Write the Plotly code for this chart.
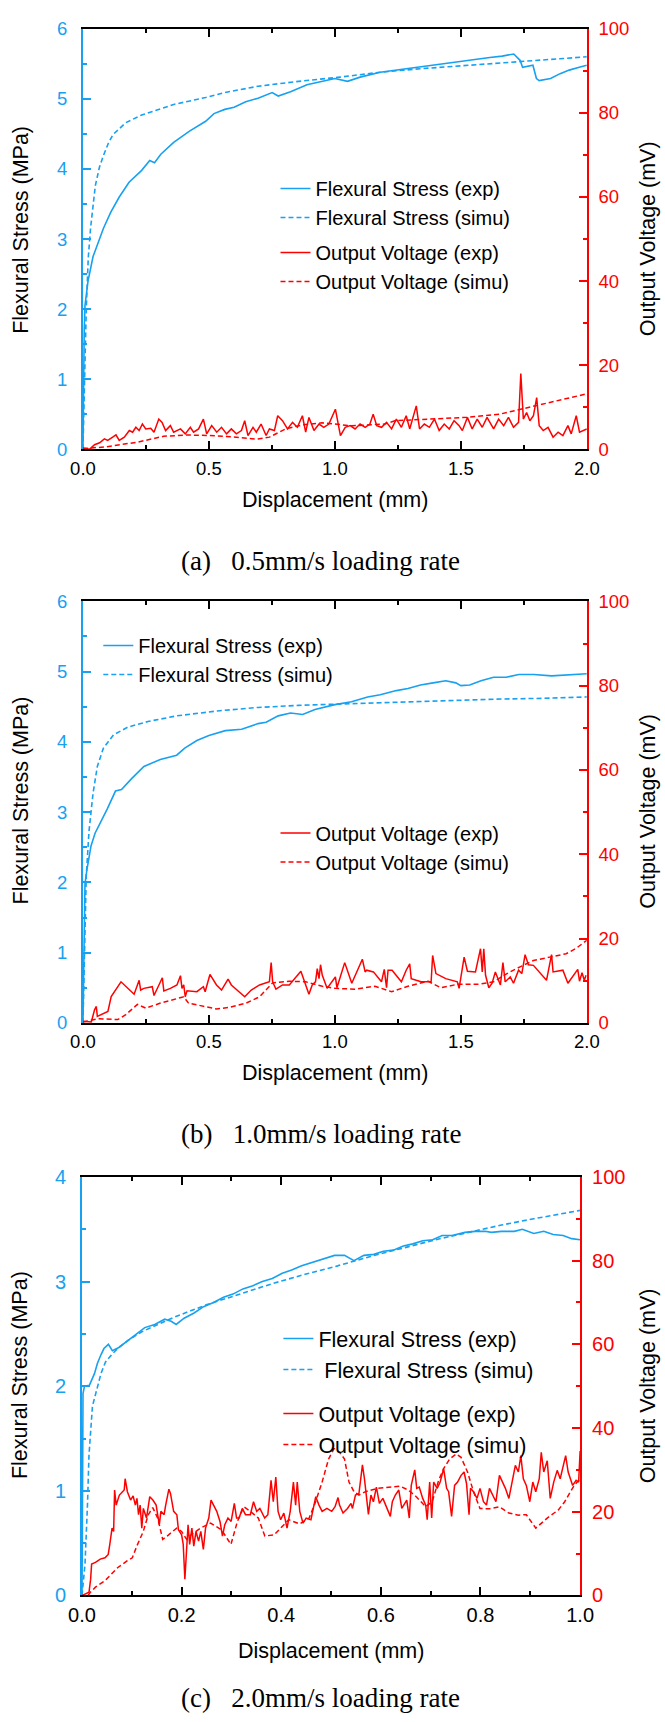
import plotly.graph_objects as go

BLUE = "#17A1F0"
RED = "#FF0000"
SANS = "Liberation Sans, Arial, sans-serif"
SERIF = "Liberation Serif, Times New Roman, serif"

W, H = 665, 1722

# ---------------- (a) 0.5 mm/s loading rate ----------------
a_stress_exp_x = [0, 0.002, 0.005, 0.008, 0.02, 0.04, 0.06, 0.081, 0.11, 0.144,
                  0.183, 0.233, 0.265, 0.284, 0.309, 0.36, 0.423, 0.487, 0.52, 0.563,
                  0.60, 0.646, 0.695, 0.751, 0.775, 0.824, 0.889, 0.969, 1.0, 1.05,
                  1.10, 1.18, 1.24, 1.34, 1.44, 1.535, 1.615, 1.664, 1.71, 1.735,
                  1.745, 1.786, 1.80, 1.811, 1.856, 1.894, 1.93, 1.97, 2.0]
a_stress_exp_y = [0, 0.9, 1.7, 2.05, 2.4, 2.75, 2.95, 3.15, 3.38, 3.60,
                  3.81, 3.98, 4.12, 4.09, 4.21, 4.38, 4.54, 4.68, 4.79, 4.85,
                  4.88, 4.96, 5.01, 5.09, 5.04, 5.10, 5.20, 5.26, 5.29, 5.25,
                  5.31, 5.38, 5.41, 5.46, 5.51, 5.55, 5.59, 5.61, 5.64, 5.55,
                  5.45, 5.48, 5.29, 5.26, 5.29, 5.36, 5.41, 5.45, 5.48]

a_stress_sim_x = [0, 0.004, 0.008, 0.013, 0.021, 0.03, 0.049, 0.065, 0.081, 0.1,
                  0.119, 0.17, 0.233, 0.3, 0.36, 0.487, 0.563, 0.695, 0.856, 1.02,
                  1.18, 1.34, 1.5, 1.66, 1.825, 2.0]
a_stress_sim_y = [0, 0.6, 1.3, 2.0, 2.73, 3.15, 3.76, 4.02, 4.19, 4.36,
                  4.49, 4.66, 4.77, 4.85, 4.92, 5.02, 5.09, 5.18, 5.25, 5.31,
                  5.38, 5.43, 5.47, 5.51, 5.56, 5.60]

a_volt_exp_x = [0, 0.026, 0.046, 0.066, 0.085, 0.098, 0.118, 0.131, 0.144, 0.164,
                0.184, 0.197, 0.210, 0.223, 0.236, 0.249, 0.269, 0.282, 0.301, 0.314,
                0.328, 0.347, 0.360, 0.387, 0.406, 0.426, 0.439, 0.459, 0.478, 0.491,
                0.511, 0.531, 0.550, 0.570, 0.589, 0.609, 0.629, 0.642, 0.655, 0.675,
                0.688, 0.707, 0.727, 0.740, 0.760, 0.773, 0.792, 0.812, 0.832, 0.851,
                0.871, 0.884, 0.897, 0.917, 0.937, 0.956, 0.976, 1.002, 1.022, 1.041,
                1.061, 1.080, 1.100, 1.120, 1.139, 1.152, 1.166, 1.185, 1.205, 1.225,
                1.244, 1.264, 1.283, 1.297, 1.323, 1.336, 1.355, 1.375, 1.395, 1.414,
                1.434, 1.454, 1.473, 1.493, 1.506, 1.526, 1.545, 1.565, 1.585, 1.604,
                1.630, 1.650, 1.670, 1.689, 1.709, 1.729, 1.738, 1.748, 1.761, 1.774,
                1.788, 1.801, 1.811, 1.827, 1.846, 1.866, 1.886, 1.905, 1.925, 1.938,
                1.958, 1.971, 2.0]
a_volt_exp_y = [0.31, 0.0, 1.09, 1.56, 2.50, 2.11, 2.89, 3.44, 2.11, 2.89,
                4.46, 4.07, 5.24, 4.46, 6.02, 4.85, 5.0, 4.07, 7.2, 6.41,
                4.46, 5.63, 4.07, 4.85, 3.67, 5.24, 4.07, 4.85, 7.2, 3.67,
                5.63, 4.07, 5.24, 3.67, 4.85, 3.67, 4.46, 6.8, 3.28, 5.24,
                4.07, 6.02, 3.28, 4.85, 4.46, 7.98, 6.8, 4.85, 6.41, 5.24,
                7.98, 4.07, 7.59, 4.46, 6.02, 5.24, 6.02, 9.54, 3.28, 5.24,
                5.63, 4.85, 6.02, 5.24, 6.02, 8.37, 5.63, 5.24, 6.41, 4.85,
                7.2, 5.24, 7.98, 4.85, 10.33, 4.85, 6.02, 5.24, 7.2, 4.46,
                6.02, 4.85, 6.8, 5.63, 4.46, 7.59, 4.85, 7.2, 5.24, 7.59,
                4.85, 7.2, 5.63, 7.59, 5.24, 6.41, 18.0, 7.2, 8.76, 6.8,
                7.98, 12.3, 5.63, 4.46, 5.24, 2.89, 4.07, 3.28, 5.63, 3.67,
                7.98, 4.07, 4.85]

a_volt_sim_x = [0, 0.085, 0.216, 0.32, 0.41, 0.504, 0.609, 0.687, 0.74, 0.805,
                0.871, 0.949, 1.067, 1.198, 1.238, 1.395, 1.525, 1.657, 1.735, 1.853,
                2.0]
a_volt_sim_y = [0.2, 0.55, 1.7, 3.1, 3.4, 3.3, 2.9, 2.4, 2.9, 4.85,
                5.8, 6.3, 5.6, 6.0, 6.8, 7.2, 7.6, 8.4, 9.5, 11.1,
                13.2]

# ---------------- (b) 1.0 mm/s loading rate ----------------
b_stress_exp_x = [0, 0.004, 0.008, 0.016, 0.032, 0.048, 0.073, 0.097, 0.129, 0.153,
                  0.194, 0.242, 0.307, 0.372, 0.404, 0.452, 0.50, 0.565, 0.63, 0.695,
                  0.727, 0.775, 0.824, 0.872, 0.921, 1.0, 1.066, 1.13, 1.18, 1.244,
                  1.29, 1.34, 1.39, 1.44, 1.48, 1.50, 1.535, 1.58, 1.63, 1.68,
                  1.73, 1.79, 1.86, 1.92, 2.0]
b_stress_exp_y = [0, 1.1, 1.98, 2.19, 2.52, 2.70, 2.87, 3.05, 3.30, 3.32,
                  3.48, 3.65, 3.75, 3.81, 3.91, 4.02, 4.09, 4.16, 4.18, 4.26,
                  4.28, 4.37, 4.41, 4.39, 4.46, 4.53, 4.57, 4.64, 4.67, 4.73,
                  4.76, 4.81, 4.84, 4.87, 4.84, 4.80, 4.81, 4.87, 4.92, 4.92,
                  4.96, 4.96, 4.94, 4.95, 4.97]

b_stress_sim_x = [0, 0.005, 0.013, 0.024, 0.04, 0.057, 0.081, 0.121, 0.178, 0.258,
                  0.372, 0.533, 0.695, 0.856, 1.018, 1.18, 1.34, 1.50, 1.66, 1.825,
                  2.0]
b_stress_sim_y = [0, 1.0, 2.09, 2.73, 3.27, 3.65, 3.91, 4.10, 4.21, 4.29,
                  4.37, 4.44, 4.49, 4.52, 4.54, 4.56, 4.575, 4.60, 4.61, 4.62,
                  4.64]

b_volt_exp_x = [0, 0.033, 0.046, 0.053, 0.057, 0.072, 0.099, 0.112, 0.151, 0.203,
                0.223, 0.229, 0.242, 0.275, 0.282, 0.315, 0.321, 0.347, 0.373, 0.387,
                0.393, 0.40, 0.406, 0.413, 0.452, 0.478, 0.485, 0.504, 0.53, 0.55,
                0.576, 0.589, 0.642, 0.668, 0.701, 0.74, 0.747, 0.753, 0.766, 0.792,
                0.819, 0.865, 0.897, 0.91, 0.923, 0.93, 0.937, 0.943, 0.95, 0.969,
                1.002, 1.008, 1.039, 1.067, 1.109, 1.120, 1.126, 1.153, 1.185, 1.196,
                1.205, 1.211, 1.227, 1.264, 1.283, 1.297, 1.303, 1.323, 1.342, 1.382,
                1.388, 1.401, 1.44, 1.486, 1.493, 1.513, 1.526, 1.558, 1.578, 1.585,
                1.591, 1.598, 1.611, 1.624, 1.637, 1.657, 1.667, 1.676, 1.696, 1.709,
                1.729, 1.742, 1.755, 1.768, 1.788, 1.84, 1.86, 1.866, 1.905, 1.925,
                1.964, 1.971, 1.981, 1.99, 1.997]
b_volt_exp_y = [0.4, 0.2, 3.1, 3.9, 1.55, 1.95, 2.73, 6.24, 9.75, 6.8,
                10.1, 7.8, 8.2, 8.6, 6.5, 10.7, 7.6, 8.2, 9.0, 11.2,
                8.2, 9.0, 6.2, 7.6, 7.4, 8.6, 7.4, 11.5, 9.0, 7.8,
                10.4, 9.0, 6.2, 7.8, 9.0, 9.75, 14.3, 9.75, 8.0, 9.0,
                9.0, 12.25, 6.8, 9.0, 9.75, 12.9, 10.5, 13.8, 11.3, 8.2,
                10.9, 8.35, 14.3, 9.4, 15.1, 12.1, 12.5, 12.1, 9.75, 12.7,
                8.35, 12.5, 12.5, 9.75, 12.5, 14.0, 10.5, 10.1, 9.75, 9.75,
                16.0, 11.7, 10.5, 9.75, 8.2, 15.6, 12.25, 12.1, 17.6, 12.1,
                17.6, 11.3, 8.35, 9.4, 12.1, 9.0, 14.3, 9.75, 10.9, 9.4,
                12.5, 11.7, 16.2, 13.8, 13.65, 10.1, 16.2, 12.1, 12.5, 9.4,
                12.7, 9.9, 11.9, 10.1, 11.3]

b_volt_sim_x = [0, 0.059, 0.138, 0.17, 0.216, 0.249, 0.308, 0.347, 0.40, 0.419,
                0.478, 0.53, 0.583, 0.648, 0.701, 0.753, 0.819, 0.884, 0.95, 1.002,
                1.08, 1.159, 1.225, 1.29, 1.369, 1.421, 1.486, 1.565, 1.63, 1.683,
                1.735, 1.788, 1.853, 1.918, 1.958, 1.99, 2.0]
b_volt_sim_y = [0.2, 1.0, 0.8, 1.95, 4.4, 3.5, 4.7, 5.3, 6.2, 4.7,
                3.9, 3.3, 3.7, 4.7, 6.2, 9.5, 9.9, 9.75, 8.7, 8.2,
                8.0, 8.7, 7.4, 8.7, 9.9, 8.35, 9.15, 9.15, 9.75, 11.7,
                13.3, 14.8, 15.6, 16.4, 17.7, 19.3, 19.6]

# ---------------- (c) 2.0 mm/s loading rate ----------------
c_stress_exp_x = [0, 0.001, 0.002, 0.005, 0.015, 0.025, 0.031, 0.038, 0.044, 0.053,
                  0.061, 0.074, 0.093, 0.110, 0.126, 0.146, 0.166, 0.179, 0.189, 0.205,
                  0.225, 0.244, 0.264, 0.284, 0.303, 0.323, 0.343, 0.362, 0.382, 0.402,
                  0.421, 0.441, 0.461, 0.474, 0.487, 0.507, 0.527, 0.546, 0.566, 0.586,
                  0.605, 0.625, 0.645, 0.664, 0.684, 0.704, 0.723, 0.743, 0.769, 0.789,
                  0.809, 0.822, 0.842, 0.868, 0.884, 0.907, 0.927, 0.946, 0.966, 0.983,
                  1.0]
c_stress_exp_y = [0, 1.0, 1.93, 2.0, 2.01, 2.12, 2.22, 2.30, 2.36, 2.40,
                  2.34, 2.37, 2.44, 2.50, 2.56, 2.59, 2.64, 2.62, 2.59, 2.65,
                  2.70, 2.76, 2.80, 2.85, 2.88, 2.93, 2.96, 3.00, 3.03, 3.08,
                  3.11, 3.15, 3.18, 3.20, 3.22, 3.25, 3.25, 3.20, 3.25, 3.26,
                  3.29, 3.30, 3.34, 3.36, 3.39, 3.40, 3.44, 3.44, 3.47, 3.48,
                  3.48, 3.47, 3.48, 3.48, 3.50, 3.46, 3.48, 3.45, 3.44, 3.41,
                  3.40]

c_stress_sim_x = [0, 0.006, 0.011, 0.014, 0.021, 0.028, 0.038, 0.047, 0.061, 0.074,
                  0.093, 0.12, 0.152, 0.185, 0.218, 0.251, 0.284, 0.317, 0.382, 0.448,
                  0.513, 0.579, 0.645, 0.71, 0.776, 0.842, 0.907, 1.0]
c_stress_sim_y = [0, 0.3, 0.87, 1.34, 1.81, 1.93, 2.12, 2.23, 2.31, 2.37,
                  2.44, 2.52, 2.59, 2.66, 2.72, 2.78, 2.83, 2.88, 2.98, 3.07,
                  3.15, 3.24, 3.32, 3.40, 3.47, 3.54, 3.60, 3.68]

c_volt_exp_x = [0, 0.0141, 0.0173, 0.0193, 0.027, 0.0366, 0.0462, 0.0526, 0.0558, 0.0603,
                0.0635, 0.0654, 0.0686, 0.075, 0.0847, 0.0866, 0.0911, 0.0975, 0.1026, 0.1071,
                0.1103, 0.1135, 0.1167, 0.12, 0.1231, 0.1295, 0.136, 0.1423, 0.1488, 0.1552,
                0.1584, 0.1648, 0.168, 0.1744, 0.1776, 0.184, 0.1904, 0.1936, 0.2, 0.2032,
                0.2065, 0.2097, 0.2129, 0.2161, 0.2206, 0.2244, 0.2289, 0.234, 0.2385, 0.2436,
                0.248, 0.2545, 0.259, 0.2641, 0.2705, 0.277, 0.282, 0.2866, 0.293, 0.2994,
                0.3058, 0.3103, 0.3154, 0.3218, 0.3282, 0.3379, 0.3443, 0.3507, 0.3571, 0.3667,
                0.3731, 0.3795, 0.384, 0.3891, 0.3936, 0.3988, 0.4052, 0.4116, 0.418, 0.4244,
                0.4289, 0.4321, 0.4372, 0.4436, 0.45, 0.4596, 0.4693, 0.4757, 0.4821, 0.4917,
                0.5013, 0.508, 0.514, 0.517, 0.524, 0.533, 0.54, 0.543, 0.549, 0.556,
                0.559, 0.563, 0.567, 0.572, 0.575, 0.58, 0.585, 0.591, 0.597, 0.604,
                0.61, 0.619, 0.623, 0.629, 0.636, 0.642, 0.652, 0.657, 0.661, 0.668,
                0.672, 0.677, 0.684, 0.69, 0.693, 0.698, 0.702, 0.706, 0.713, 0.719,
                0.726, 0.732, 0.736, 0.742, 0.748, 0.754, 0.761, 0.767, 0.772, 0.777,
                0.78, 0.786, 0.793, 0.799, 0.806, 0.812, 0.818, 0.825, 0.831, 0.838,
                0.844, 0.85, 0.857, 0.863, 0.87, 0.876, 0.881, 0.886, 0.892, 0.899,
                0.905, 0.911, 0.918, 0.922, 0.927, 0.934, 0.94, 0.947, 0.954, 0.96,
                0.965, 0.971, 0.976, 0.98, 0.985, 0.992, 0.997, 1.0]
c_volt_exp_y = [0, 0.8, 3.9, 7.5, 7.9, 8.7, 9.0, 9.8, 12.2, 16.1,
                15.3, 25.2, 21.6, 24.0, 25.2, 27.9, 24.8, 22.8, 23.8, 21.6,
                23.2, 19.3, 21.6, 16.1, 20.8, 18.5, 23.6, 22.8, 21.6, 16.9,
                20.1, 19.3, 21.6, 25.4, 24.4, 20.1, 19.3, 15.7, 14.5, 12.2,
                3.9, 10.6, 16.9, 12.2, 16.1, 11.8, 15.3, 13.0, 15.3, 11.0,
                16.1, 18.5, 22.8, 21.6, 20.1, 17.7, 14.2, 16.9, 18.5, 17.7,
                22.0, 18.5, 18.5, 20.8, 19.3, 19.3, 22.4, 20.1, 20.8, 18.5,
                19.3, 27.5, 22.4, 28.3, 20.1, 18.1, 19.7, 16.1, 20.1, 27.1,
                21.6, 27.1, 20.1, 17.3, 18.5, 18.1, 23.6, 21.6, 20.1, 20.8,
                20.1, 21.2, 23.4, 21.6, 19.7, 20.8, 22.0, 20.8, 24.0, 24.4,
                27.1, 31.2, 27.9, 22.4, 19.4, 24.0, 22.4, 25.9, 22.0, 23.2,
                21.6, 18.9, 22.4, 24.0, 25.2, 20.8, 22.8, 18.5, 26.3, 30.0,
                25.6, 25.9, 23.2, 21.6, 18.1, 27.1, 18.5, 27.1, 25.6, 27.1,
                30.3, 25.6, 24.8, 18.9, 26.3, 27.1, 28.7, 29.5, 26.7, 19.3,
                25.6, 24.8, 23.2, 25.6, 22.4, 21.6, 25.6, 24.0, 22.4, 28.7,
                27.1, 25.6, 23.2, 27.1, 31.1, 29.5, 33.4, 27.9, 26.3, 22.4,
                27.1, 24.8, 27.9, 34.2, 29.5, 32.2, 23.2, 27.1, 29.9, 27.9,
                30.3, 33.4, 29.5, 27.9, 26.3, 27.5, 27.1, 34.5]

c_volt_sim_x = [0.012, 0.017, 0.027, 0.046, 0.059, 0.072, 0.091, 0.101, 0.11, 0.123,
                0.133, 0.142, 0.152, 0.162, 0.171, 0.181, 0.19, 0.2, 0.21, 0.219,
                0.238, 0.258, 0.28, 0.299, 0.312, 0.325, 0.338, 0.354, 0.367, 0.386,
                0.399, 0.415, 0.437, 0.456, 0.469, 0.482, 0.495, 0.506, 0.517, 0.527,
                0.536, 0.546, 0.556, 0.569, 0.594, 0.62, 0.639, 0.655, 0.671, 0.69,
                0.703, 0.716, 0.726, 0.738, 0.751, 0.761, 0.774, 0.786, 0.799, 0.818,
                0.838, 0.857, 0.876, 0.892, 0.911, 0.934, 0.956, 0.969, 0.979, 0.988,
                1.0]
c_volt_sim_y = [0.0, 0.8, 2.0, 3.5, 5.1, 6.7, 8.3, 9.0, 11.8, 15.3,
                19.3, 21.0, 18.5, 13.4, 14.2, 15.3, 16.1, 15.3, 13.4, 14.5,
                16.1, 17.3, 15.7, 12.2, 17.7, 21.2, 20.1, 18.5, 14.2, 14.5,
                16.1, 18.1, 17.1, 18.5, 22.4, 27.1, 32.6, 35.1, 34.2, 32.6,
                27.1, 24.8, 24.0, 24.8, 25.6, 25.9, 26.1, 25.2, 23.6, 21.2,
                22.4, 27.5, 30.3, 32.6, 33.8, 33.0, 29.5, 24.8, 20.8, 20.7,
                21.2, 19.7, 19.2, 19.3, 16.1, 18.5, 20.4, 22.4, 24.4, 26.3,
                27.9]

NAME_S_EXP = "Flexural Stress (exp)"
NAME_S_SIM = "Flexural Stress (simu)"
NAME_V_EXP = "Output Voltage (exp)"
NAME_V_SIM = "Output Voltage (simu)"
DASH = "5px,3px"


def px_x(px):
    return px / W


def px_y(py):
    return 1 - py / H


fig = go.Figure()


def add_panel(xa, ya_left, ya_right, sx, sy, ssx, ssy, vx, vy, vsx, vsy,
              leg_s, leg_v, sim_stress_name=NAME_S_SIM):
    fig.add_trace(go.Scatter(x=sx, y=sy, xaxis=xa, yaxis=ya_left, mode="lines",
                             name=NAME_S_EXP, legend=leg_s, legendgroup=leg_s + "s",
                             line=dict(color=BLUE, width=1.6)))
    fig.add_trace(go.Scatter(x=ssx, y=ssy, xaxis=xa, yaxis=ya_left, mode="lines",
                             name=sim_stress_name, legend=leg_s, legendgroup=leg_s + "s",
                             line=dict(color=BLUE, width=1.6, dash=DASH)))
    fig.add_trace(go.Scatter(x=vx, y=vy, xaxis=xa, yaxis=ya_right, mode="lines",
                             name=NAME_V_EXP, legend=leg_v, legendgroup=leg_v + "v",
                             line=dict(color=RED, width=1.5)))
    fig.add_trace(go.Scatter(x=vsx, y=vsy, xaxis=xa, yaxis=ya_right, mode="lines",
                             name=NAME_V_SIM, legend=leg_v, legendgroup=leg_v + "v",
                             line=dict(color=RED, width=1.5, dash=DASH)))


add_panel("x", "y", "y2", a_stress_exp_x, a_stress_exp_y, a_stress_sim_x, a_stress_sim_y,
          a_volt_exp_x, a_volt_exp_y, a_volt_sim_x, a_volt_sim_y, "legend", "legend")
add_panel("x2", "y3", "y4", b_stress_exp_x, b_stress_exp_y, b_stress_sim_x, b_stress_sim_y,
          b_volt_exp_x, b_volt_exp_y, b_volt_sim_x, b_volt_sim_y, "legend2", "legend3")
add_panel("x3", "y5", "y6", c_stress_exp_x, c_stress_exp_y, c_stress_sim_x, c_stress_sim_y,
          c_volt_exp_x, c_volt_exp_y, c_volt_sim_x, c_volt_sim_y, "legend4", "legend4",
          sim_stress_name="\u00a0" + NAME_S_SIM)


def x_axis(domain, anchor, rng, dtick, minor_dtick, fsize):
    return dict(domain=domain, anchor=anchor, range=rng, tick0=0, dtick=dtick,
                tickformat=".1f", showgrid=False, zeroline=False,
                showline=True, linecolor="black", linewidth=2, mirror="ticks",
                ticks="inside", ticklen=8, tickwidth=1.6, tickcolor="black",
                minor=dict(ticks="inside", ticklen=4, dtick=minor_dtick,
                           tickcolor="black", tickwidth=1.6, showgrid=False),
                tickfont=dict(family=SANS, size=fsize, color="black"),
                ticklabelstandoff=1)


def y_left(domain, anchor, rng, dtick, minor_dtick, fsize):
    return dict(domain=domain, anchor=anchor, range=rng, tick0=0, dtick=dtick,
                showgrid=False, zeroline=False,
                showline=True, linecolor=BLUE, linewidth=2,
                ticks="inside", ticklen=8, tickwidth=1.6, tickcolor=BLUE,
                minor=dict(ticks="inside", ticklen=4, dtick=minor_dtick,
                           tickcolor=BLUE, tickwidth=1.6, showgrid=False),
                tickfont=dict(family=SANS, size=fsize, color=BLUE),
                ticklabelstandoff=10)


def y_right(overlay, anchor, rng, dtick, minor_dtick, fsize):
    return dict(overlaying=overlay, side="right", anchor=anchor, range=rng,
                tick0=0, dtick=dtick, showgrid=False, zeroline=False,
                showline=True, linecolor=RED, linewidth=2,
                ticks="inside", ticklen=8, tickwidth=1.6, tickcolor=RED,
                minor=dict(ticks="inside", ticklen=4, dtick=minor_dtick,
                           tickcolor=RED, tickwidth=1.6, showgrid=False),
                tickfont=dict(family=SANS, size=fsize, color=RED),
                ticklabelstandoff=6)


dom_ab_x = [px_x(72), px_x(598)]
dom_c_x = [px_x(71), px_x(591)]
dom_a_y = [px_y(444), px_y(18)]
dom_b_y = [px_y(1025), px_y(598)]
dom_c_y = [px_y(1605), px_y(1181)]


def legend_cfg(xpx, ypx, fsize, gap):
    return dict(x=px_x(xpx), y=px_y(ypx), xanchor="left", yanchor="top",
                bgcolor="rgba(0,0,0,0)", borderwidth=0,
                font=dict(family=SANS, size=fsize, color="black"),
                traceorder="grouped", tracegroupgap=gap)


annotations = []


def add_text(text, xpx, ypx, size, family=SANS, angle=0):
    annotations.append(dict(text=text, x=px_x(xpx), y=px_y(ypx), xref="paper", yref="paper",
                            showarrow=False, xanchor="center", yanchor="middle",
                            textangle=angle, font=dict(family=family, size=size, color="black")))


# axis titles and panel captions
for yc_left, yc_right, xc, yx, ycap, cap in [
        (222, 231, 335, 495, 557, "(a)\u00a0\u00a0\u00a00.5mm/s loading rate"),
        (800, 811, 335, 1076, 1138, "(b)\u00a0\u00a0\u00a01.0mm/s loading rate"),
        (1382, 1393, 331, 1661, 1709, "(c)\u00a0\u00a0\u00a02.0mm/s loading rate")]:
    add_text("Flexural Stress (MPa)", 7, yc_left, 21.5, angle=-90)
    add_text("Output Voltage (mV)", 662, yc_right, 21.5, angle=-90)
    add_text("Displacement (mm)", xc, yx, 21.5)
    add_text(cap, 320, ycap, 27, family=SERIF)

fig.update_layout(
    width=W, height=H,
    margin=dict(l=0, r=0, t=0, b=0),
    paper_bgcolor="white", plot_bgcolor="white",
    showlegend=True,
    xaxis=x_axis(dom_ab_x, "y", [0, 2], 0.5, 0.25, 18.5),
    yaxis=y_left(dom_a_y, "x", [0, 6], 1, 0.5, 18.5),
    yaxis2=y_right("y", "x", [0, 100], 20, 10, 18.5),
    xaxis2=x_axis(dom_ab_x, "y3", [0, 2], 0.5, 0.25, 18.5),
    yaxis3=y_left(dom_b_y, "x2", [0, 6], 1, 0.5, 18.5),
    yaxis4=y_right("y3", "x2", [0, 100], 20, 10, 18.5),
    xaxis3=x_axis(dom_c_x, "y5", [0, 1], 0.2, 0.1, 20),
    yaxis5=y_left(dom_c_y, "x3", [0, 4], 1, 0.5, 20),
    yaxis6=y_right("y5", "x3", [0, 100], 20, 10, 20),
    legend=legend_cfg(273, 160, 20, 6),
    legend2=legend_cfg(88, 623, 20, 6),
    legend3=legend_cfg(273, 813, 20, 6),
    legend4=legend_cfg(276, 1324, 21.5, 13),
    annotations=annotations,
)

fig.write_html("out.html")
